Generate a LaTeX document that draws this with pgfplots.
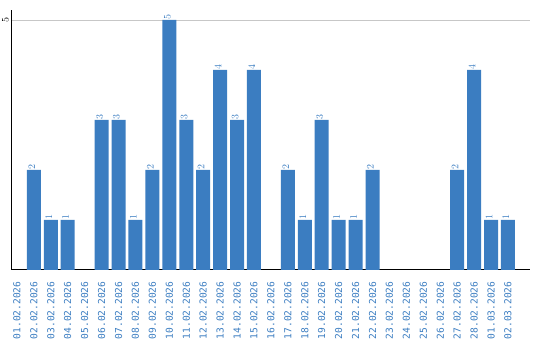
\documentclass[border=0pt]{standalone}
\usepackage{pgfplots}
\pgfplotsset{compat=1.18}
\usepackage{fontspec}
\setmainfont{DejaVu Sans}
\setmonofont{DejaVu Sans Mono}
\definecolor{barblue}{RGB}{59,125,193}
\begin{document}
\begin{tikzpicture}
\begin{axis}[
  scale only axis, width=519bp, height=260bp,
  xmin=-0.35, xmax=30.3, ymin=0, ymax=5.2,
  axis lines=left, axis line style={-, black, line width=1pt},
  ytick={5}, ymajorgrids, grid style={black!22, line width=0.8pt},
  xtick={0,...,29},
  xticklabels={01.02.2026,02.02.2026,03.02.2026,04.02.2026,05.02.2026,06.02.2026,07.02.2026,08.02.2026,09.02.2026,10.02.2026,11.02.2026,12.02.2026,13.02.2026,14.02.2026,15.02.2026,16.02.2026,17.02.2026,18.02.2026,19.02.2026,20.02.2026,21.02.2026,22.02.2026,23.02.2026,24.02.2026,25.02.2026,26.02.2026,27.02.2026,28.02.2026,01.03.2026,02.03.2026},
  tick style={draw=none},
  xticklabel style={rotate=90, anchor=east, inner sep=0pt, text=barblue, font=\ttfamily\fontsize{9.6bp}{10bp}\selectfont},
  xticklabel shift=7bp,
  yticklabel style={rotate=90, anchor=south, inner sep=0pt, text=black, font=\ttfamily\fontsize{9.5bp}{10bp}\selectfont},
  yticklabel shift=0bp,
  ybar, bar width=14bp,
  nodes near coords={\ttfamily\fontsize{9.8bp}{10bp}\selectfont\pgfmathprintnumber{\pgfplotspointmeta}},
  every node near coord/.append style={rotate=90, anchor=west, inner sep=0pt, text=barblue},
  nodes near coords style={yshift=2bp},
]
\addplot[fill=barblue, draw=none] coordinates {
 (1,2) (2,1) (3,1) (5,3) (6,3) (7,1) (8,2) (9,5) (10,3) (11,2) (12,4) (13,3) (14,4)
 (16,2) (17,1) (18,3) (19,1) (20,1) (21,2) (26,2) (27,4) (28,1) (29,1)
};
\end{axis}
\pgfresetboundingbox
\useasboundingbox ([shift={(-11bp,-70bp)}]current axis.south west) rectangle ([shift={(10bp,10bp)}]current axis.north east);
\end{tikzpicture}
\end{document}
